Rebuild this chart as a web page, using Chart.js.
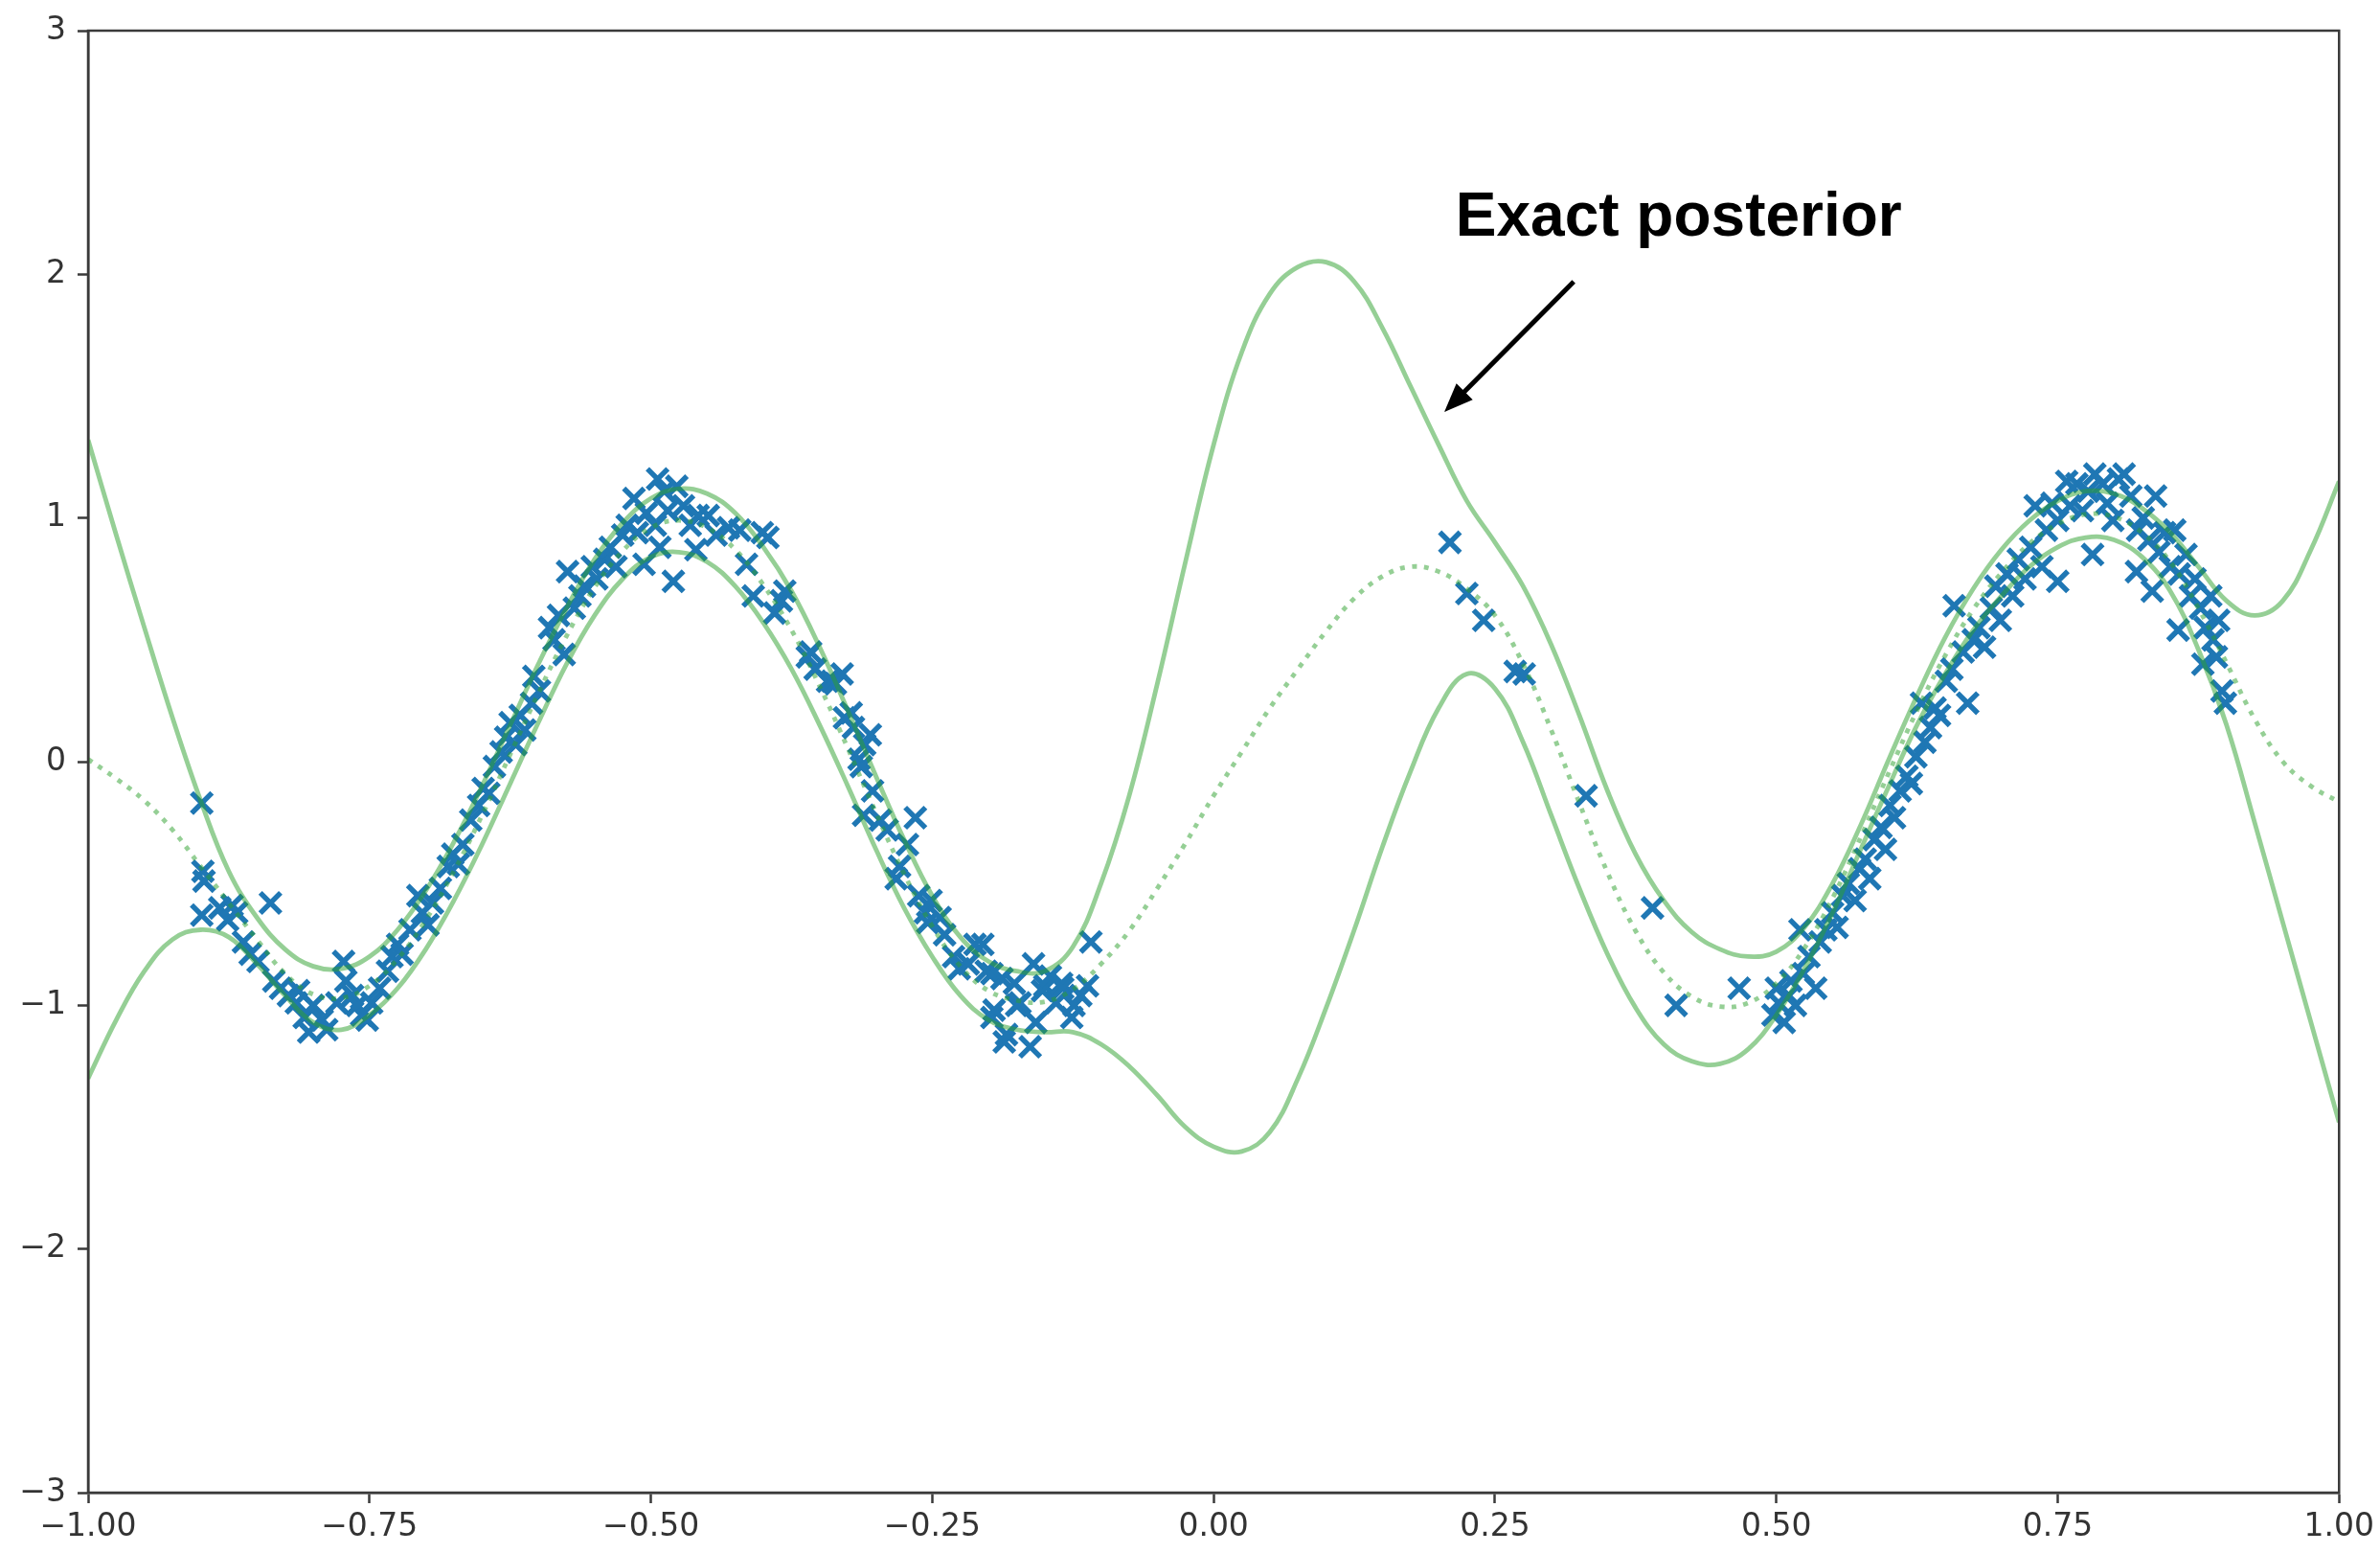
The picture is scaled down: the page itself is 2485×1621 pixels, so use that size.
<!DOCTYPE html>
<html>
<head>
<meta charset="utf-8">
<script src="https://cdn.jsdelivr.net/npm/chart.js@4.4.1/dist/chart.umd.min.js"></script>
<style>
  html, body { margin: 0; padding: 0; background: #ffffff; }
  #wrap { width: 2485px; height: 1621px; position: relative; }
</style>
</head>
<body>
<div id="wrap"><canvas id="chart"></canvas></div>
<script>
// Evaluation grid for the posterior curves
const gridX = [
  -1.000, -0.975, -0.950, -0.925, -0.900, -0.875, -0.850, -0.825, -0.800, -0.775,
  -0.750, -0.725, -0.700, -0.675, -0.650, -0.625, -0.600, -0.575, -0.550, -0.525,
  -0.500, -0.475, -0.450, -0.425, -0.400, -0.375, -0.350, -0.325, -0.300, -0.275,
  -0.250, -0.225, -0.200, -0.175, -0.150, -0.125, -0.100, -0.075, -0.050, -0.025,
   0.000,  0.025,  0.050,  0.075,  0.100,  0.125,  0.150,  0.175,  0.200,  0.225,
   0.250,  0.275,  0.300,  0.325,  0.350,  0.375,  0.400,  0.425,  0.450,  0.475,
   0.500,  0.525,  0.550,  0.575,  0.600,  0.625,  0.650,  0.675,  0.700,  0.725,
   0.750,  0.775,  0.800,  0.825,  0.850,  0.875,  0.900,  0.925,  0.950,  0.975,
   1.000
];

// Upper edge of the exact posterior band
const upperBand = [
   1.32,  0.93,  0.55,  0.18, -0.16, -0.45, -0.64, -0.77, -0.84, -0.85,
  -0.80, -0.69, -0.53, -0.33, -0.10,  0.15,  0.40,  0.63,  0.83,  0.98,
   1.08,  1.12,  1.10,  1.02,  0.88,  0.70,  0.47,  0.21, -0.06, -0.32,
  -0.55, -0.72, -0.82, -0.86, -0.86, -0.76, -0.50, -0.14,  0.32,  0.82,
   1.30,  1.68,  1.92,  2.03,  2.05,  1.97,  1.78,  1.54,  1.30,  1.07,
   0.90,  0.72,  0.48,  0.19, -0.12, -0.38, -0.57, -0.70, -0.77, -0.80,
  -0.78, -0.68, -0.50, -0.26,  0.01,  0.27,  0.51,  0.71,  0.87,  0.99,
   1.07,  1.11,  1.10,  1.04,  0.94,  0.80,  0.66,  0.60,  0.66,  0.87,
   1.15
];

// Lower edge of the exact posterior band
const lowerBand = [
  -1.30, -1.06, -0.86, -0.73, -0.69, -0.72, -0.83, -0.96, -1.07, -1.10,
  -1.04, -0.93, -0.77, -0.57, -0.34, -0.09,  0.16,  0.40,  0.60,  0.75,
   0.84,  0.86,  0.82,  0.72,  0.57,  0.38,  0.15, -0.10, -0.36, -0.60,
  -0.80, -0.96, -1.06, -1.10, -1.11, -1.11, -1.16, -1.25, -1.37, -1.50,
  -1.58, -1.60, -1.52, -1.30, -1.01, -0.69, -0.35, -0.04,  0.22,  0.36,
   0.30,  0.08, -0.22, -0.52, -0.79, -1.01, -1.16, -1.23, -1.24, -1.18,
  -1.04, -0.85, -0.62, -0.36, -0.10,  0.15,  0.36,  0.54,  0.68,  0.80,
   0.88,  0.92,  0.91,  0.84,  0.70,  0.46,  0.15, -0.25, -0.66, -1.07,
  -1.48
];

// Posterior mean (dotted)
const meanCurve = [
   0.01, -0.07, -0.16, -0.28, -0.43, -0.58, -0.73, -0.87, -0.955, -0.97,
  -0.92, -0.81, -0.65, -0.45, -0.22,  0.03,  0.28,  0.515, 0.715, 0.865,
   0.96,  0.99,  0.96,  0.87,  0.725, 0.54,  0.31,  0.055, -0.21, -0.46,
  -0.675, -0.84, -0.94, -0.98, -0.985, -0.935, -0.83, -0.695, -0.52, -0.335,
  -0.14,  0.04,  0.22,  0.38,  0.535, 0.67,  0.76,  0.80,  0.78,  0.71,
   0.60,  0.40,  0.13, -0.17, -0.455, -0.695, -0.865, -0.965, -1.005, -0.99,
  -0.91, -0.765, -0.56, -0.31, -0.045, 0.21,  0.435, 0.625, 0.775, 0.895,
   0.975, 1.015, 1.005, 0.94,  0.82,  0.63,  0.405, 0.175, 0.0,  -0.10,
  -0.165
];

// Observed training points
const obsX = [
  -0.899, -0.898, -0.897, -0.899, -0.883, -0.876, -0.872, -0.868, -0.838, -0.862,
  -0.856, -0.849, -0.835, -0.829, -0.822, -0.815, -0.813, -0.808, -0.804, -0.800,
  -0.792, -0.788, -0.779, -0.773, -0.771, -0.765, -0.761, -0.757, -0.752, -0.748,
  -0.741, -0.734, -0.730, -0.725, -0.721, -0.714, -0.707, -0.703, -0.698, -0.694,
  -0.687, -0.680, -0.676, -0.671, -0.667, -0.660, -0.653, -0.649, -0.644, -0.639,
  -0.633, -0.629, -0.625, -0.620, -0.616, -0.612, -0.606, -0.604, -0.599,
  -0.590, -0.586, -0.582, -0.577, -0.574, -0.568, -0.563, -0.559, -0.552, -0.548,
  -0.541, -0.536, -0.531, -0.525, -0.521, -0.515, -0.512, -0.506, -0.504, -0.494,
  -0.496, -0.492, -0.488, -0.485, -0.480, -0.477, -0.471, -0.465, -0.460, -0.458,
  -0.449, -0.442, -0.431, -0.421, -0.415, -0.409, -0.401, -0.396, -0.390, -0.384,
  -0.381, -0.361, -0.358, -0.354,
  -0.343, -0.339, -0.336, -0.330, -0.328, -0.322, -0.320, -0.315, -0.313, -0.310,
  -0.305, -0.311, -0.303, -0.296, -0.290, -0.282, -0.279, -0.272, -0.265, -0.262,
  -0.256, -0.254, -0.251, -0.243, -0.239, -0.231, -0.226, -0.218, -0.212, -0.205,
  -0.202, -0.197, -0.197, -0.195, -0.188, -0.186, -0.184, -0.177, -0.175, -0.172,
  -0.163, -0.160, -0.158, -0.152, -0.150, -0.145, -0.140, -0.135, -0.134, -0.126,
  -0.124, -0.118, -0.112, -0.109,
   0.210,  0.225,  0.240,  0.268,  0.276,  0.331,  0.390,  0.411,  0.467,
   0.497,  0.502,  0.500,  0.507,  0.511,  0.513,  0.517,  0.521,  0.524,  0.529,
   0.535,  0.539,  0.544,  0.550,  0.554,  0.559,  0.564,  0.570,  0.574,  0.579,
   0.583,  0.587,  0.593,  0.597,  0.601,  0.605,  0.610,  0.616,  0.620,  0.624,
   0.629,  0.632,  0.637,  0.641,  0.645,  0.651,  0.656,  0.658,  0.666,  0.670,
   0.675,  0.680,  0.685,  0.691,  0.695,  0.699,  0.705,  0.710,  0.715,  0.721,
   0.726,  0.730,  0.736,  0.740,  0.745,  0.750,  0.750,  0.758,  0.761,  0.767,
   0.772,  0.777,  0.781,  0.783,  0.790,  0.794,  0.799,  0.804,  0.809,  0.815,
   0.820,  0.821,  0.826,  0.831,  0.834,  0.837,  0.840,  0.845,  0.850,  0.854,
   0.857,  0.858,  0.864,  0.868,  0.872,  0.877,  0.879,  0.881,  0.886,  0.888,
   0.891,  0.893,  0.896,  0.899
];
const obsY = [
  -0.17, -0.45, -0.49, -0.63, -0.60, -0.65, -0.59, -0.62, -0.58, -0.74,
  -0.79, -0.82, -0.90, -0.93, -0.96, -0.99, -0.94, -1.05, -1.11, -1.00,
  -1.06, -1.10, -0.99, -0.82, -0.90, -0.96, -1.00, -1.04, -1.06, -0.99,
  -0.93, -0.86, -0.80, -0.75, -0.79, -0.69, -0.55, -0.62, -0.67, -0.58,
  -0.52, -0.43, -0.38, -0.42, -0.34, -0.24, -0.18, -0.11, -0.13, -0.02,
   0.04,  0.10,  0.16,  0.07,  0.19,  0.13,  0.24,  0.35,  0.29,
   0.55,  0.50,  0.60,  0.44,  0.78,  0.63,  0.68,  0.72,  0.80,  0.75,
   0.83,  0.88,  0.80,  0.93,  0.97,  1.08,  0.94,  0.81,  1.02,  1.16,
   0.97,  0.88,  1.11,  1.03,  0.74,  1.13,  1.05,  0.97,  0.87,  1.01,
   1.01,  0.93,  0.96,  0.95,  0.81,  0.68,  0.94,  0.92,  0.61,  0.66,
   0.70,  0.43,  0.45,  0.38,
   0.33,  0.33,  0.32,  0.36,  0.18,  0.20,  0.14,  0.01, -0.02,  0.07,
   0.11, -0.22, -0.12, -0.24, -0.28, -0.48, -0.43, -0.34, -0.23, -0.55,
  -0.62, -0.66, -0.57, -0.64, -0.71, -0.80, -0.85, -0.83, -0.75, -0.75,
  -0.86, -0.87, -1.05, -1.02, -0.89, -1.15, -1.12, -0.91, -1.00, -0.99,
  -1.17, -0.83, -1.07, -0.94, -0.92, -0.88, -0.99, -0.91, -0.93, -1.05,
  -1.00, -0.96, -0.92, -0.74,
   0.90,  0.69,  0.58,  0.37,  0.36, -0.14, -0.60, -1.00, -0.93,
  -1.04, -0.99, -0.93, -1.07, -0.96, -0.90, -1.00, -0.69, -0.87, -0.80,
  -0.93, -0.74, -0.69, -0.62, -0.68, -0.55, -0.50, -0.57, -0.44, -0.40,
  -0.48, -0.32, -0.27, -0.36, -0.18, -0.23, -0.12, -0.06, -0.09,  0.02,
   0.24,  0.08,  0.14,  0.22,  0.19,  0.33,  0.38,  0.64,  0.45,  0.24,
   0.50,  0.55,  0.47,  0.63,  0.72,  0.58,  0.77,  0.68,  0.83,  0.75,
   0.88,  1.05,  0.80,  0.95,  1.06,  0.99,  0.74,  1.15,  1.05,  1.14,
   1.03,  1.11,  0.85,  1.18,  1.14,  1.06,  0.99,  1.16,  1.18,  1.09,
   0.78,  0.95,  1.00,  0.91,  0.70,  1.09,  0.86,  0.94,  0.80,  0.95,
   0.54,  0.77,  0.85,  0.68,  0.75,  0.63,  0.40,  0.55,  0.68,  0.50,
   0.43,  0.58,  0.29,  0.24
];

const xTickValues = [-1, -0.75, -0.5, -0.25, 0, 0.25, 0.5, 0.75, 1];
const yTickValues = [-3, -2, -1, 0, 1, 2, 3];

// Callout text and arrow, in data coordinates
const calloutText = 'Exact posterior';
const calloutLabel = { x: 0.215, y: 2.16 };
const calloutTail = { x: 0.32, y: 1.97 };
const calloutHead = { x: 0.205, y: 1.435 };

const AXIS_COLOR = '#3a3a3a';
const TICK_FONT = { family: '"DejaVu Sans", sans-serif', size: 33 };
const BAND_GREEN = 'rgba(44, 160, 44, 0.5)';
const POINT_BLUE = '#1f77b4';

const toPoints = (xs, ys) => xs.map((x, i) => ({ x: x, y: ys[i] }));
const minus = s => s.replace('-', '\u2212');

const frameAndCallout = {
  id: 'frameAndCallout',
  afterDraw(chart) {
    const { ctx, chartArea: a, scales } = chart;
    const sx = scales.x, sy = scales.y;
    ctx.save();
    // full box frame around the plotting area
    ctx.strokeStyle = AXIS_COLOR;
    ctx.lineWidth = 2.5;
    ctx.strokeRect(a.left, a.top, a.right - a.left, a.bottom - a.top);

    // arrow
    const hx = sx.getPixelForValue(calloutHead.x), hy = sy.getPixelForValue(calloutHead.y);
    const tx = sx.getPixelForValue(calloutTail.x), ty = sy.getPixelForValue(calloutTail.y);
    const ang = Math.atan2(hy - ty, hx - tx);
    const headLen = 30, headHalf = 12;
    const bx = hx - headLen * Math.cos(ang), by = hy - headLen * Math.sin(ang);
    ctx.strokeStyle = '#000';
    ctx.lineWidth = 5;
    ctx.beginPath();
    ctx.moveTo(tx, ty);
    ctx.lineTo(bx + 4 * Math.cos(ang), by + 4 * Math.sin(ang));
    ctx.stroke();
    ctx.fillStyle = '#000';
    ctx.beginPath();
    ctx.moveTo(hx, hy);
    ctx.lineTo(bx + headHalf * Math.sin(ang), by - headHalf * Math.cos(ang));
    ctx.lineTo(bx - headHalf * Math.sin(ang), by + headHalf * Math.cos(ang));
    ctx.closePath();
    ctx.fill();

    // label
    ctx.font = 'bold 64px "Liberation Sans", Arial, sans-serif';
    ctx.textAlign = 'left';
    ctx.textBaseline = 'alphabetic';
    ctx.fillText(calloutText, sx.getPixelForValue(calloutLabel.x), sy.getPixelForValue(calloutLabel.y));
    ctx.restore();
  }
};

const lineStyle = {
  showLine: true,
  pointRadius: 0,
  pointHoverRadius: 0,
  borderColor: BAND_GREEN,
  borderWidth: 4.8,
  fill: false,
  tension: 0.4,
  order: 0
};

new Chart(document.getElementById('chart'), {
  type: 'scatter',
  data: {
    datasets: [
      {
        label: 'observations',
        data: toPoints(obsX, obsY),
        pointStyle: 'crossRot',
        pointRadius: 15,
        pointHoverRadius: 15,
        borderColor: POINT_BLUE,
        backgroundColor: POINT_BLUE,
        pointBorderWidth: 5.5,
        showLine: false,
        order: 1
      },
      Object.assign({ label: 'upper', data: toPoints(gridX, upperBand) }, lineStyle),
      Object.assign({ label: 'lower', data: toPoints(gridX, lowerBand) }, lineStyle),
      Object.assign({ label: 'mean', data: toPoints(gridX, meanCurve), borderDash: [5, 7.5] }, lineStyle)
    ]
  },
  options: {
    responsive: true,
    maintainAspectRatio: false,
    animation: false,
    events: [],
    layout: { padding: { top: 32, right: 40, bottom: 0, left: 0 } },
    plugins: { legend: { display: false }, tooltip: { enabled: false } },
    scales: {
      x: {
        type: 'linear',
        min: -1,
        max: 1,
        afterBuildTicks: s => { s.ticks = xTickValues.map(v => ({ value: v })); },
        afterFit: s => { s.height = 63; },
        grid: { drawOnChartArea: false, drawTicks: true, tickLength: 11, tickColor: AXIS_COLOR, tickWidth: 2.5 },
        border: { display: true, color: AXIS_COLOR, width: 2.5 },
        ticks: {
          autoSkip: false,
          maxRotation: 0,
          padding: 6,
          color: '#333',
          font: TICK_FONT,
          callback: v => minus(Number(v).toFixed(2))
        }
      },
      y: {
        type: 'linear',
        min: -3,
        max: 3,
        afterBuildTicks: s => { s.ticks = yTickValues.map(v => ({ value: v })); },
        afterFit: s => { s.width = 92; },
        grid: { drawOnChartArea: false, drawTicks: true, tickLength: 11, tickColor: AXIS_COLOR, tickWidth: 2.5 },
        border: { display: true, color: AXIS_COLOR, width: 2.5 },
        ticks: {
          autoSkip: false,
          padding: 12,
          color: '#333',
          font: TICK_FONT,
          callback: v => minus(String(v))
        }
      }
    }
  },
  plugins: [frameAndCallout]
});
</script>
</body>
</html>
